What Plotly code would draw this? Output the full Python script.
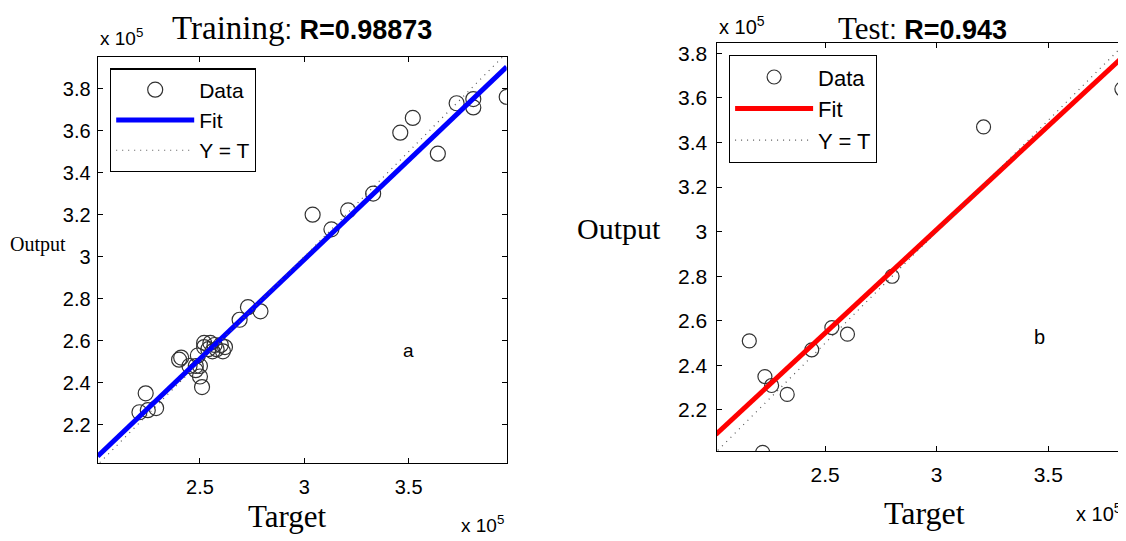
import plotly.graph_objects as go

# ---------------- data (units of 1e5) ----------------
train_target = [3.04, 3.13, 3.21, 3.33, 3.46, 3.52, 3.64, 3.73, 3.81, 3.81, 3.97,
                2.79, 2.73, 2.69,
                2.52, 2.55, 2.57, 2.60, 2.62, 2.58, 2.56, 2.54, 2.61, 2.52,
                2.40, 2.41, 2.49, 2.45, 2.48, 2.50, 2.48, 2.50, 2.51,
                2.24, 2.21, 2.25, 2.29]
train_output = [3.20, 3.13, 3.22, 3.30, 3.59, 3.66, 3.49, 3.73, 3.75, 3.71, 3.76,
                2.74, 2.76, 2.70,
                2.59, 2.59, 2.58, 2.58, 2.57, 2.56, 2.55, 2.56, 2.55, 2.57,
                2.51, 2.52, 2.53, 2.48, 2.48, 2.48, 2.46, 2.43, 2.38,
                2.35, 2.26, 2.27, 2.28]
train_fit_x = [2.01, 3.97]
train_fit_y = [2.051, 3.903]
train_range_x = [2.01, 3.97]
train_range_y = [2.02, 3.95]

test_target = [3.21, 3.83, 2.80, 2.53, 2.60, 2.44, 2.16, 2.23, 2.26, 2.33, 2.22]
test_output = [3.47, 3.64, 2.80, 2.57, 2.54, 2.47, 2.51, 2.35, 2.31, 2.27, 2.01]
test_fit_x = [2.01, 3.84]
test_fit_y = [2.090, 3.790]
test_range_x = [2.013, 3.835]
test_range_y = [2.016, 3.848]

ident = [2.0, 4.0]

xtick_vals = [2.5, 3.0, 3.5]
xtick_text = ["2.5", "3", "3.5"]
ytick_vals = [2.2, 2.4, 2.6, 2.8, 3.0, 3.2, 3.4, 3.6, 3.8]
ytick_text = ["2.2", "2.4", "2.6", "2.8", "3", "3.2", "3.4", "3.6", "3.8"]

SERIF = "Liberation Serif"
SANS = "Liberation Sans"

fig = go.Figure()

# --- training panel ---
fig.add_trace(go.Scatter(x=train_target, y=train_output, mode="markers", name="Data",
                         marker=dict(symbol="circle-open", size=15, color="#333333", line=dict(width=1.2)),
                         xaxis="x", yaxis="y", legend="legend"))
fig.add_trace(go.Scatter(x=train_fit_x, y=train_fit_y, mode="lines", name="Fit",
                         line=dict(color="#0000FF", width=5), xaxis="x", yaxis="y", legend="legend"))
fig.add_trace(go.Scatter(x=ident, y=ident, mode="lines", name="Y = T",
                         line=dict(color="#555555", width=1.2, dash="1px,5px"),
                         xaxis="x", yaxis="y", legend="legend"))

# --- test panel ---
fig.add_trace(go.Scatter(x=test_target, y=test_output, mode="markers", name="Data",
                         marker=dict(symbol="circle-open", size=14, color="#333333", line=dict(width=1.2)),
                         xaxis="x2", yaxis="y2", legend="legend2"))
fig.add_trace(go.Scatter(x=test_fit_x, y=test_fit_y, mode="lines", name="Fit",
                         line=dict(color="#FF0000", width=5), xaxis="x2", yaxis="y2", legend="legend2"))
fig.add_trace(go.Scatter(x=ident, y=ident, mode="lines", name="Y = T",
                         line=dict(color="#555555", width=1.2, dash="1px,5px"),
                         xaxis="x2", yaxis="y2", legend="legend2"))

# page body has an 8px margin: compensate so the figure lands where the reference is
OX, OY = 8, 8
W, H = 1126 - OX, 541 - OY

def px(x):
    return (x - OX) / W

def py(y):
    return 1 - (y - OY) / H

def ax_common(size):
    return dict(showline=True, linecolor="black", linewidth=1.2, mirror="ticks",
                ticks="inside", ticklen=5, tickcolor="black", tickwidth=1,
                showgrid=False, zeroline=False, automargin=False,
                tickfont=dict(family=SANS, size=size, color="black"))

fig.update_layout(
    width=W, height=H, margin=dict(l=0, r=0, t=0, b=0, autoexpand=False),
    paper_bgcolor="white", plot_bgcolor="white",
    xaxis=dict(domain=[px(97.7), px(506.7)], range=train_range_x, anchor="y",
               tickvals=xtick_vals, ticktext=xtick_text, ticklabelstandoff=6, **ax_common(20)),
    yaxis=dict(domain=[py(462.7), py(57)], range=train_range_y, anchor="x",
               tickvals=ytick_vals, ticktext=ytick_text, ticklabelstandoff=2, **ax_common(20)),
    xaxis2=dict(domain=[px(716.5), px(1123)], range=test_range_x, anchor="y2",
                tickvals=xtick_vals, ticktext=xtick_text, ticklabelstandoff=5, **ax_common(21)),
    yaxis2=dict(domain=[py(451), py(42.7)], range=test_range_y, anchor="x2",
                tickvals=ytick_vals, ticktext=ytick_text, ticklabelstandoff=4, **ax_common(21)),
    legend=dict(x=px(110), y=py(68.3), xanchor="left", yanchor="top",
                bordercolor="black", borderwidth=1.2, bgcolor="white",
                font=dict(family=SANS, size=21, color="black"), itemwidth=78,
                tracegroupgap=0),
    legend2=dict(x=px(728.9), y=py(55), xanchor="left", yanchor="top",
                 bordercolor="black", borderwidth=1.2, bgcolor="white",
                 font=dict(family=SANS, size=22, color="black"), itemwidth=78,
                 tracegroupgap=0),
    showlegend=True,
)

def pann(text, x, y, size, family, xanchor="center", yanchor="middle"):
    fig.add_annotation(text=text, x=px(x), y=py(y), xref="paper", yref="paper",
                       showarrow=False, xanchor=xanchor, yanchor=yanchor,
                       font=dict(family=family, size=size, color="black"))

# titles
pann('<span style="font-family:Liberation Serif;font-size:33px">Training</span>'
     '<span style="font-family:Liberation Sans;font-size:27px">: <b>R=0.98873</b></span>',
     302, 28, 27, SANS)
pann('<span style="font-family:Liberation Serif;font-size:31px">Test</span>'
     '<span style="font-family:Liberation Sans;font-size:27px">: <b>R=0.943</b></span>',
     922, 8.5, 27, SANS, yanchor="top")

# exponent labels
pann("x 10<sup>5</sup>", 98, 37, 19, SANS, xanchor="left")
pann("x 10<sup>5</sup>", 506, 524, 19, SANS, xanchor="right")
pann("x 10<sup>5</sup>", 717, 25, 20, SANS, xanchor="left")
pann("x 10<sup>5</sup>", 1124, 512, 20, SANS, xanchor="right")

# axis labels
pann("Output", 38, 244, 20, SERIF)
pann("Target", 287, 516, 31, SERIF)
pann("Output", 619, 229, 30, SERIF)
pann("Target", 924, 513, 32, SERIF)

# panel letters
fig.add_annotation(text="a", x=3.498, y=2.556, xref="x", yref="y", showarrow=False,
                   font=dict(family=SANS, size=19, color="black"))
fig.add_annotation(text="b", x=3.461, y=2.527, xref="x2", yref="y2", showarrow=False,
                   font=dict(family=SANS, size=20, color="black"))

fig.write_html("out.html")
